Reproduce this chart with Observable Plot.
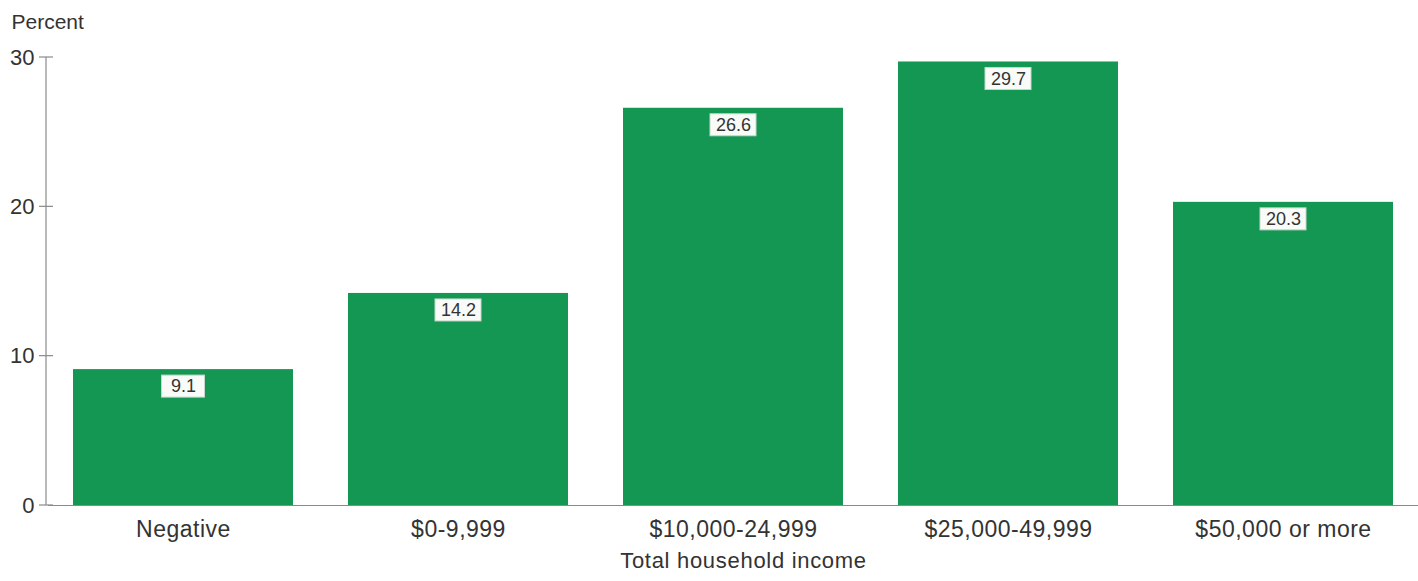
<!DOCTYPE html>
<html>
<head>
<meta charset="utf-8">
<script src="https://cdn.jsdelivr.net/npm/d3@7"></script>
<script src="https://cdn.jsdelivr.net/npm/@observablehq/plot@0.6"></script>
<style>
  html, body { margin: 0; padding: 0; background: #ffffff; }
  #chart svg { display: block; font-family: "Liberation Sans", Arial, Helvetica, sans-serif; }
  #chart g[aria-label="x-axis tick label"] text { letter-spacing: 0.5px; }
</style>
</head>
<body>
<div id="chart"></div>
<script>
const categories = ["Negative", "$0-9,999", "$10,000-24,999", "$25,000-49,999", "$50,000 or more"];
const values = [9.1, 14.2, 26.6, 29.7, 20.3];
const valueLabels = ["9.1", "14.2", "26.6", "29.7", "20.3"];
const yTicks = [0, 10, 20, 30];
const yTitle = "Percent";
const xTitle = "Total household income";

const data = categories.map((c, i) => ({category: c, value: values[i], label: valueLabels[i]}));

const green = "#139752";
const ink = "#333333";
const axisGray = "#8a8a8a";

// y axis line with ticks crossing it
const yAxisLine = (index, scales, vals, dims) => {
  const g = d3.create("svg:g").attr("stroke", axisGray).attr("stroke-width", 1.2);
  const x0 = dims.marginLeft - 2;
  g.append("line")
    .attr("x1", x0).attr("x2", x0)
    .attr("y1", scales.y(0)).attr("y2", scales.y(30));
  for (const t of yTicks) {
    g.append("line")
      .attr("x1", x0 - 7).attr("x2", x0 + 7)
      .attr("y1", scales.y(t)).attr("y2", scales.y(t));
  }
  return g.node();
};

const short = data.filter(d => d.label.length <= 3);
const long = data.filter(d => d.label.length > 3);

const chart = Plot.plot({
  width: 1418,
  height: 581,
  marginLeft: 48,
  marginRight: 0,
  marginTop: 57,
  marginBottom: 76,
  style: {background: "#ffffff", color: ink, fontFamily: "Liberation Sans, Arial, sans-serif"},
  x: {domain: categories, paddingInner: 0.2, paddingOuter: 0.087, label: null},
  y: {domain: [0, 30], label: null},
  marks: [
    Plot.ruleY([0], {stroke: axisGray, strokeWidth: 1.2}),
    Plot.barY(data, {x: "category", y: "value", fill: green}),
    Plot.barY(short, {x: "category", y1: "value", y2: "value", insetTop: -11, insetBottom: -11, insetLeft: 88.5, insetRight: 88.5, dy: 17, fill: "#f8fbf8", stroke: "#c9d6cd", strokeWidth: 1}),
    Plot.barY(long, {x: "category", y1: "value", y2: "value", insetTop: -11, insetBottom: -11, insetLeft: 87, insetRight: 87, dy: 17, fill: "#f8fbf8", stroke: "#c9d6cd", strokeWidth: 1}),
    Plot.text(data, {x: "category", y: "value", text: "label", dy: 17, fontSize: 18, fill: ink}),
    yAxisLine,
    Plot.axisY({ticks: yTicks, tickSize: 0, tickPadding: 14, fontSize: 22, fill: ink, label: null}),
    Plot.axisX({tickSize: 0, tickPadding: 15, fontSize: 23, fill: ink, label: null}),
    Plot.text([yTitle], {frameAnchor: "top-left", dx: -37, dy: -29, textAnchor: "start", lineAnchor: "bottom", fontSize: 21, fill: ink}),
    Plot.text([xTitle], {frameAnchor: "bottom", dx: 10, dy: 62, textAnchor: "middle", lineAnchor: "bottom", fontSize: 22, fill: ink})
  ]
});

d3.select(chart).selectAll("text").filter(function() { return this.textContent === xTitle; }).attr("letter-spacing", "0.7px");

document.getElementById("chart").appendChild(chart);
</script>
</body>
</html>
